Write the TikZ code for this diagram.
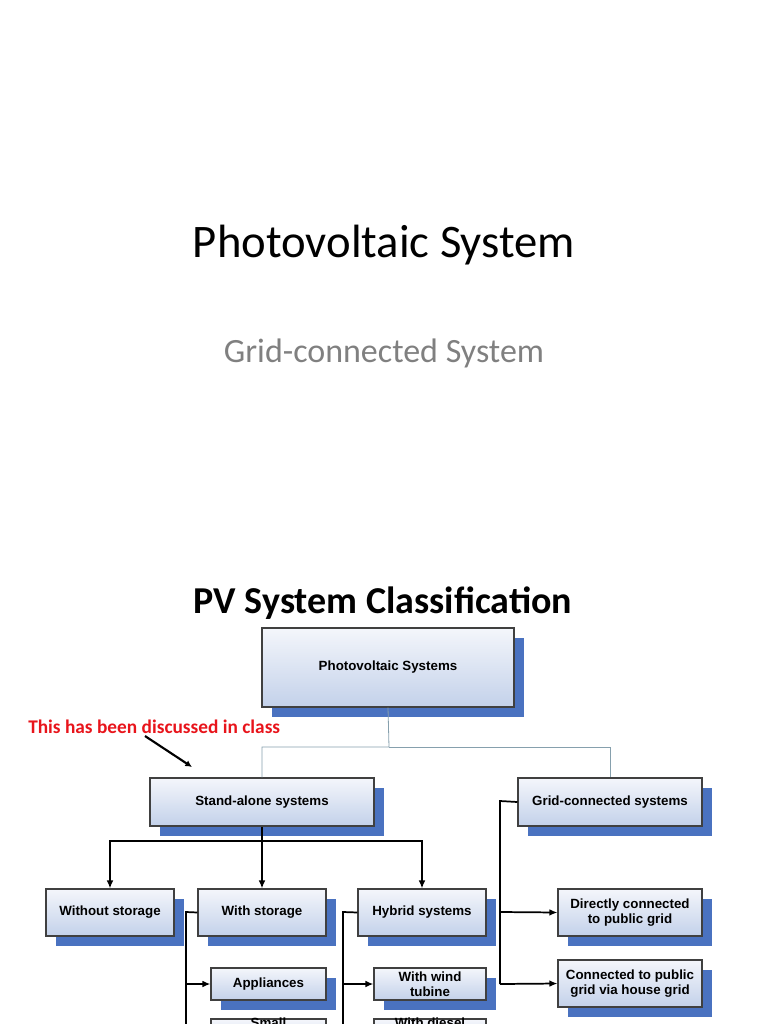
\documentclass[tikz,border=0pt]{standalone}
\usepackage{fontspec}
\setmainfont{Carlito}
\newfontfamily\boxfont{Liberation Sans}
\usetikzlibrary{arrows.meta}
\definecolor{shad}{HTML}{4A72C0}
\definecolor{boxtop}{HTML}{F4F6FB}
\definecolor{boxbot}{HTML}{C3D1EA}
\definecolor{redtxt}{HTML}{E8141B}
\begin{document}
\begin{tikzpicture}[x=0.75pt,y=-0.75pt,
  bx/.style={draw=black!75,line width=0.8pt,top color=boxtop,bottom color=boxbot,
    font=\boxfont\bfseries\fontsize{10}{11.5}\selectfont,align=center,inner sep=0pt},
  bt/.style={font=\boxfont\bfseries\fontsize{10}{11.5}\selectfont,anchor=north,inner sep=0pt},
  ln/.style={line width=1.3pt,black},
  arr/.style={ln,-{Latex[length=6pt,width=5pt]}}]
\useasboundingbox (0,0) rectangle (768,1024);
\clip (0,0) rectangle (768,1024);
\newcommand\mybox[6]{% name, x1,y1,x2,y2, text
  \fill[shad] (#2+10,#3+10) rectangle (#4+10,#5+10);
  \node[bx,minimum width=(#4-#2)*0.75pt,minimum height=(#5-#3)*0.75pt] (#1) at ({(#2+#4)/2},{(#3+#5)/2}) {#6};}
\node[font=\fontsize{35}{42}\selectfont] (t1) at (384,245) {Photovoltaic System};
\node[font=\fontsize{25.5}{30}\selectfont,text=black!50] (t2) at (384,353) {Grid-connected System};
\node[font=\bfseries\fontsize{28.5}{34}\selectfont] (t3) at (383,603) {PV System Classification};
\node[font=\bfseries\fontsize{14.5}{17}\selectfont,text=redtxt,anchor=west,inner sep=0pt] (note) at (28,727) {This has been discussed in class};
\coordinate (na) at (145,736);
\coordinate (nb) at (192,767);
\draw[ln,line width=1.6pt,-{Latex[length=5pt,width=5pt]}] (na) -- (nb);

\mybox{pv}{262}{628}{514}{707}{Photovoltaic Systems}
\mybox{sa}{150}{778}{374}{826}{Stand-alone systems}
\mybox{gc}{518}{778}{702}{826}{Grid-connected systems}
\mybox{wo}{46}{889}{174}{936}{Without storage}
\mybox{ws}{198}{889}{326}{936}{With storage}
\mybox{hy}{358}{889}{486}{936}{Hybrid systems}
\mybox{dc}{558}{889}{702}{936}{Directly connected\\to public grid}
\mybox{cp}{558}{960}{702}{1007}{Connected to public\\grid via house grid}
\mybox{ap}{211}{968}{326}{1000}{Appliances}
\mybox{ww}{374}{968}{486}{1000}{With wind\\tubine}
\mybox{sm}{211}{1019}{326}{1060}{}
\mybox{wd}{374}{1019}{486}{1060}{}
\node[bt] (smt) at (268.5,1018) {Small};
\node[bt] (wdt) at (430,1018) {With diesel};

% top connectors (thin, teal)
\draw[draw=cyan!40!black!60,line width=0.6pt] (pv.south) -- (389,747) -| (sa.north);
\draw[draw=cyan!40!black!60,line width=0.6pt] (389,747) -| (gc.north);
% stand-alone branches
\draw[ln] (sa.south) -- (262,841);
\draw[arr] (262,841) -| (wo.north);
\draw[arr] (262,841) -- (ws.north);
\draw[arr] (262,841) -| (hy.north);
% with storage
\coordinate (wsl) at (186,912);
\draw[ln] (ws.west) -- (wsl) -- (186,1030);
\draw[arr] (186,984) -- (ap.west);
\draw[arr] (186,1035) -- (sm.west);
% hybrid
\coordinate (hyl) at (343,912);
\draw[ln] (hy.west) -- (hyl) -- (343,1030);
\draw[arr] (343,984) -- (ww.west);
\draw[arr] (343,1035) -- (wd.west);
% grid
\coordinate (gcl) at (500,801);
\draw[ln] (gc.west) -- (gcl) -- (500,984);
\draw[arr] (500,912) -- (dc.west);
\draw[arr] (500,984) -- (cp.west);
\end{tikzpicture}
\end{document}
